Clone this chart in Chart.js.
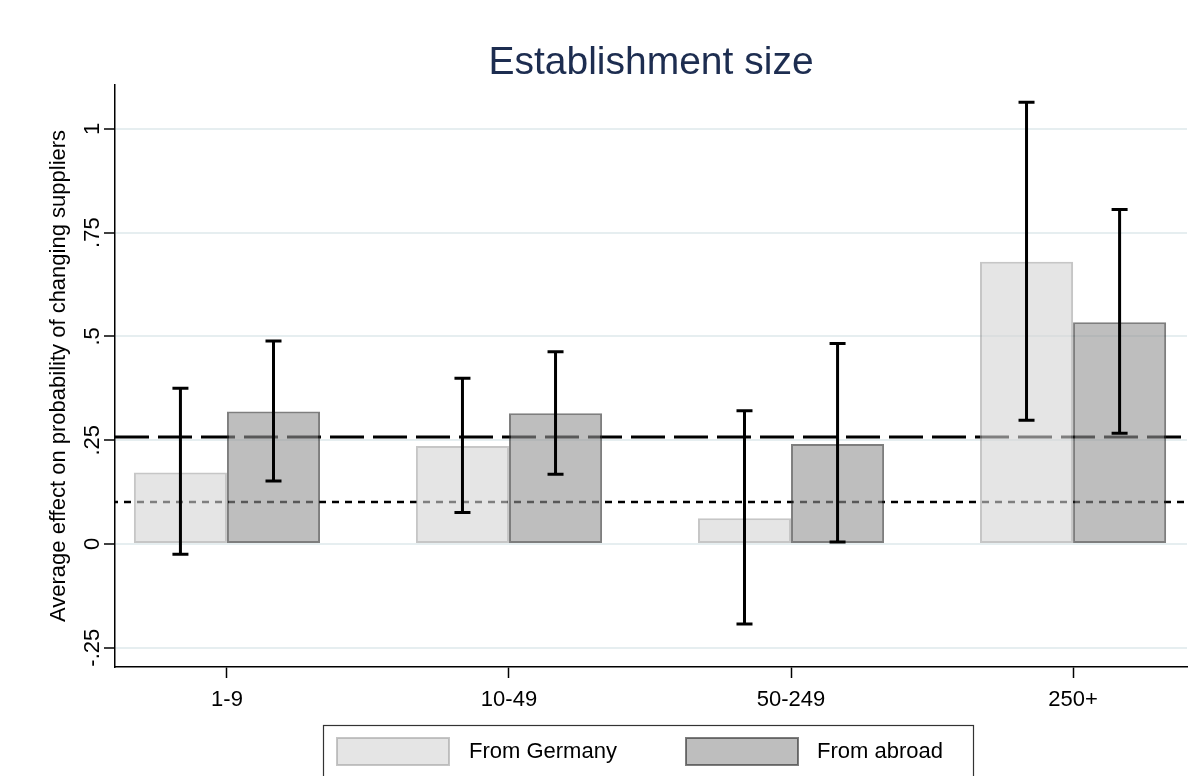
<!DOCTYPE html>
<html>
<head>
<meta charset="utf-8">
<title>Establishment size</title>
<script src="https://cdn.jsdelivr.net/npm/chart.js@4.4.1/dist/chart.umd.min.js"></script>
<style>
  html, body { margin: 0; padding: 0; background: #ffffff; }
  #wrap { width: 1192px; height: 776px; }
</style>
</head>
<body>
<div id="wrap"><canvas id="chart" width="1192" height="776"></canvas></div>
<script>
// Establishment size classes (x categories)
const sizeClasses = ['1-9', '10-49', '50-249', '250+'];

// Average effect on the probability of changing suppliers, with confidence bounds
const fromGermany     = [0.172, 0.236, 0.062, 0.680];
const fromGermanyLow  = [-0.025, 0.076, -0.193, 0.298];
const fromGermanyHigh = [0.375, 0.399, 0.321, 1.064];

const fromAbroad      = [0.319, 0.315, 0.241, 0.534];
const fromAbroadLow   = [0.152, 0.168, 0.005, 0.267];
const fromAbroadHigh  = [0.489, 0.463, 0.483, 0.806];

// Horizontal reference levels
const dashedLevel = 0.258;
const dottedLevel = 0.101;

// Y axis ticks
const yTickValues = [-0.25, 0, 0.25, 0.5, 0.75, 1];
const yTickLabels = ['-.25', '0', '.25', '.5', '.75', '1'];

const FONT = "'Liberation Sans', Arial, Helvetica, sans-serif";

const toPoints = vals => vals.map((v, i) => ({ x: i + 1, y: v }));

// Reference lines drawn behind the (translucent) bars
const referenceLines = {
  id: 'referenceLines',
  beforeDatasetsDraw(chart) {
    const { ctx, chartArea: a, scales: { y } } = chart;
    ctx.save();
    ctx.strokeStyle = '#000000';
    ctx.lineCap = 'butt';
    // long dashes
    ctx.lineWidth = 3;
    ctx.setLineDash([34, 9]);
    let py = y.getPixelForValue(dashedLevel);
    ctx.beginPath(); ctx.moveTo(a.left, py); ctx.lineTo(a.right, py); ctx.stroke();
    // short dashes
    ctx.lineWidth = 2.5;
    ctx.setLineDash([7, 6]);
    ctx.lineDashOffset = 4;
    py = y.getPixelForValue(dottedLevel);
    ctx.beginPath(); ctx.moveTo(a.left, py); ctx.lineTo(a.right, py); ctx.stroke();
    ctx.restore();
  }
};

// Confidence interval whiskers on top of each bar
const whiskers = {
  id: 'whiskers',
  afterDatasetsDraw(chart) {
    const { ctx, scales: { y } } = chart;
    const bounds = [[fromGermanyLow, fromGermanyHigh], [fromAbroadLow, fromAbroadHigh]];
    ctx.save();
    ctx.strokeStyle = '#000000';
    ctx.lineWidth = 3;
    ctx.setLineDash([]);
    chart.data.datasets.forEach((ds, di) => {
      const meta = chart.getDatasetMeta(di);
      meta.data.forEach((bar, i) => {
        const lo = y.getPixelForValue(bounds[di][0][i]);
        const hi = y.getPixelForValue(bounds[di][1][i]);
        const cap = 8;
        ctx.beginPath();
        ctx.moveTo(bar.x, lo); ctx.lineTo(bar.x, hi);
        ctx.moveTo(bar.x - cap, lo); ctx.lineTo(bar.x + cap, lo);
        ctx.moveTo(bar.x - cap, hi); ctx.lineTo(bar.x + cap, hi);
        ctx.stroke();
      });
    });
    ctx.restore();
  }
};

// Boxed legend below the plot
const boxedLegend = {
  id: 'boxedLegend',
  afterDraw(chart) {
    const { ctx } = chart;
    const box = { left: 323.5, top: 725.5, width: 650, height: 60 };
    ctx.save();
    ctx.fillStyle = '#ffffff';
    ctx.fillRect(box.left, box.top, box.width, box.height);
    ctx.strokeStyle = '#333333';
    ctx.lineWidth = 1.2;
    ctx.strokeRect(box.left, box.top, box.width, box.height);
    const swatchX = [337, 686];
    const textX = [469, 817];
    ctx.font = '22px ' + FONT;
    ctx.textBaseline = 'middle';
    ctx.textAlign = 'left';
    chart.data.datasets.forEach((ds, i) => {
      ctx.fillStyle = ds.backgroundColor;
      ctx.fillRect(swatchX[i], 738, 112, 27);
      ctx.strokeStyle = ds.borderColor;
      ctx.lineWidth = 2;
      ctx.strokeRect(swatchX[i], 738, 112, 27);
      ctx.fillStyle = '#000000';
      ctx.fillText(ds.label, textX[i], 752);
    });
    ctx.restore();
  }
};

new Chart(document.getElementById('chart'), {
  type: 'bar',
  data: {
    datasets: [
      {
        label: 'From Germany',
        data: toPoints(fromGermany),
        backgroundColor: 'rgba(212,212,212,0.6)',
        borderColor: 'rgba(160,160,160,0.6)',
        borderWidth: 2,
        borderSkipped: false
      },
      {
        label: 'From abroad',
        data: toPoints(fromAbroad),
        backgroundColor: 'rgba(147,147,147,0.6)',
        borderColor: 'rgba(40,40,40,0.6)',
        borderWidth: 2,
        borderSkipped: false
      }
    ]
  },
  options: {
    responsive: false,
    animation: false,
    devicePixelRatio: 1,
    categoryPercentage: 0.66,
    barPercentage: 1.0,
    layout: { padding: { left: 0, right: 5, top: 0, bottom: 59 } },
    plugins: {
      legend: { display: false },
      tooltip: { enabled: false },
      title: {
        display: true,
        fullSize: false,
        text: 'Establishment size',
        color: '#1d2d50',
        font: { family: FONT, size: 39, weight: 'normal', lineHeight: 1.1 },
        padding: { top: 42, bottom: 0 }
      }
    },
    scales: {
      x: {
        type: 'linear',
        offset: false,
        min: 0.603,
        max: 4.404,
        afterBuildTicks(scale) {
          scale.ticks = sizeClasses.map((_, i) => ({ value: i + 1 }));
        },
        afterFit(scale) {
          scale.height = 50;
          scale.paddingLeft = 0;
          scale.paddingRight = 0;
        },
        ticks: {
          color: '#000000',
          font: { family: FONT, size: 22 },
          padding: 9,
          maxRotation: 0,
          callback: v => sizeClasses[Math.round(v) - 1]
        },
        grid: {
          offset: false,
          drawOnChartArea: false,
          drawTicks: true,
          tickLength: 11,
          tickColor: '#000000',
          tickWidth: 1.5
        },
        border: { display: true, color: '#000000', width: 1.5 }
      },
      y: {
        type: 'linear',
        min: -0.2964,
        max: 1.106,
        afterBuildTicks(scale) {
          scale.ticks = yTickValues.map(v => ({ value: v }));
        },
        afterFit(scale) {
          scale.width = 115;
          scale.paddingTop = 0;
          scale.paddingBottom = 0;
        },
        ticks: {
          color: '#000000',
          font: { family: FONT, size: 22 },
          minRotation: 90,
          maxRotation: 90,
          crossAlign: 'center',
          padding: -8,
          callback: v => yTickLabels[yTickValues.findIndex(t => Math.abs(t - v) < 1e-9)]
        },
        grid: {
          color: '#e6eef0',
          lineWidth: 2,
          drawTicks: true,
          tickLength: 11,
          tickColor: '#000000',
          tickWidth: 1.5
        },
        border: { display: true, color: '#000000', width: 1.5 },
        title: {
          display: true,
          text: 'Average effect on probability of changing suppliers',
          color: '#000000',
          font: { family: FONT, size: 22 },
          padding: { top: 46, bottom: 0 }
        }
      }
    }
  },
  plugins: [referenceLines, whiskers, boxedLegend]
});
</script>
</body>
</html>
